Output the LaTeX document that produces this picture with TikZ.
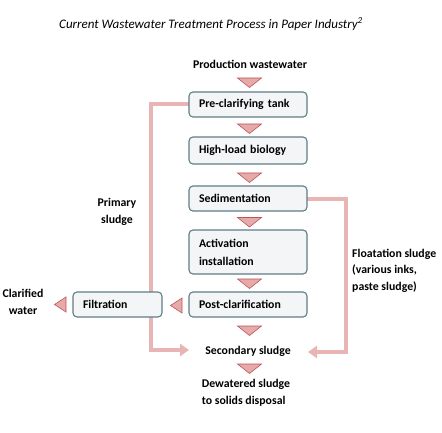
\documentclass[tikz,border=0pt]{standalone}
\usepackage{fontspec}
\setmainfont{Carlito}
\usetikzlibrary{arrows.meta}
\definecolor{pinkline}{RGB}{232,180,180}
\definecolor{trifill}{RGB}{230,170,170}
\definecolor{triedge}{RGB}{190,85,85}
\definecolor{boxedge}{RGB}{95,125,135}
\definecolor{boxfill}{RGB}{243,245,247}
\tikzset{
  x=1pt, y=-1pt,
  procbox/.style={draw=boxedge, fill=boxfill, line width=1.1pt, rounded corners=4pt,
    minimum height=25pt, text width=98pt, inner xsep=10pt, align=left,
    font=\fontsize{11.8}{18}\selectfont\bfseries, anchor=center},
  lbl/.style={font=\fontsize{11.8}{17}\selectfont\bfseries, inner sep=0pt},
  sludge/.style={draw=pinkline, line width=4pt, -{Triangle[width=12pt,length=9pt]}},
  dtri/.style={fill=trifill, draw=triedge, line width=0.6pt, line join=miter},
}
\begin{document}
\begin{tikzpicture}
\useasboundingbox (0,0) rectangle (442,433);
\fill[white] (0,0) rectangle (442,433);
% title
\node[inner sep=0pt, font=\fontsize{13}{16}\selectfont\itshape] (title) at (211,24) {Current Wastewater Treatment Process in Paper Industry\textsuperscript{2}};
% labels
\node[lbl] (prod) at (250,64) {Production wastewater};
\node[lbl] (sec) at (248,351) {Secondary sludge};
\node[lbl, align=left] (dew) at (246,392.5) {Dewatered sludge\\to solids disposal};
\node[lbl, align=center] (clar) at (23,301.5) {Clarified\\water};
\node[lbl, align=center] (prim) at (117,211.5) {Primary\\sludge};
\node[lbl, align=left, anchor=north west, font=\fontsize{11.8}{16.5}\selectfont\bfseries] (flot) at (352,249) {Floatation sludge\\(various inks,\\paste sludge)};
% sludge lines (behind boxes)
\coordinate (p1) at (151,104);
\coordinate (p2) at (151,350);
\coordinate (pt) at (189,350);
\coordinate (f1) at (346,199);
\coordinate (f2) at (346,352);
\coordinate (ft) at (308,352);
\draw[sludge] (240,104) -- (p1) -- (p2) -- (pt);
\draw[sludge] (260,199) -- (f1) -- (f2) -- (ft);
% boxes
\node[procbox] (pre) at (248,104.5) {Pre-clarifying tank};
\node[procbox, minimum height=27pt] (hlb) at (248,150.5) {High-load biology};
\node[procbox] (sed) at (248,198.5) {Sedimentation};
\node[procbox, minimum height=44pt] (act) at (248,252) {Activation\\installation};
\node[procbox] (post) at (248,304.5) {Post-clarification};
\node[procbox, text width=69pt] (filt) at (117.5,304.5) {Filtration};
% down triangles
\foreach \yt in {78,124,173,217.5,279,326,364}{
  \draw[dtri] (237.5,\yt) -- (261.5,\yt) -- (249.5,\yt+9.5) -- cycle;
}
% left triangles
\draw[dtri] (182,298) -- (182,313) -- (170.5,305.5) -- cycle;
\draw[dtri] (66,297) -- (66,312) -- (54.5,304.5) -- cycle;
\end{tikzpicture}
\end{document}
